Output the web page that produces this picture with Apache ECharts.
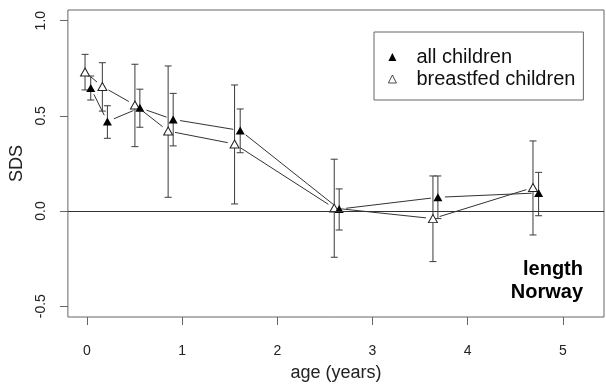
<!DOCTYPE html>
<html><head><meta charset="utf-8">
<script src="https://cdn.jsdelivr.net/npm/echarts@6/dist/echarts.min.js"></script>
<style>html,body{margin:0;padding:0;background:#fff}#c{width:606px;height:387px}</style>
</head><body><div id="c"></div>
<script>
// all children
const allAge  = [0.040, 0.215, 0.556, 0.906, 1.610, 2.650, 3.687, 4.745];
const allMean = [0.646, 0.470, 0.542, 0.481, 0.423, 0.010, 0.072, 0.095];
const allLow  = [0.583, 0.382, 0.440, 0.342, 0.306, -0.100, -0.040, -0.025];
const allHigh = [0.709, 0.553, 0.640, 0.618, 0.536, 0.116, 0.184, 0.203];
// breastfed children
const bfAge  = [-0.020, 0.162, 0.504, 0.853, 1.551, 2.598, 3.635, 4.686];
const bfMean = [0.730, 0.654, 0.557, 0.420, 0.352, 0.015, -0.040, 0.123];
const bfLow  = [0.636, 0.525, 0.338, 0.072, 0.037, -0.243, -0.266, -0.126];
const bfHigh = [0.823, 0.779, 0.771, 0.762, 0.662, 0.272, 0.184, 0.368];
// axes
const xTicks = [0, 1, 2, 3, 4, 5];
const yTicks = [-0.5, 0.0, 0.5, 1.0];
const seriesNames = ['all children', 'breastfed children'];

const FONT = '"Liberation Sans", Arial, sans-serif';
const chart = echarts.init(document.getElementById('c'), null, {renderer: 'canvas'});

function segData(xs, ys) {
  const out = [];
  for (let i = 0; i < xs.length - 1; i++) out.push([xs[i], ys[i], xs[i + 1], ys[i + 1]]);
  return out;
}
function barData(xs, lo, hi) { return xs.map((x, i) => [x, lo[i], hi[i]]); }
function ptData(xs, ys) { return xs.map((x, i) => [x, ys[i]]); }

function segItem(params, api) {
  const p1 = api.coord([api.value(0), api.value(1)]);
  const p2 = api.coord([api.value(2), api.value(3)]);
  const dx = p2[0] - p1[0], dy = p2[1] - p1[1];
  const L = Math.hypot(dx, dy);
  const g = 7;
  if (L <= 2 * g) return {type: 'group', children: []};
  const ux = dx / L, uy = dy / L;
  return {type: 'line', shape: {x1: p1[0] + ux * g, y1: p1[1] + uy * g, x2: p2[0] - ux * g, y2: p2[1] - uy * g},
          style: {stroke: '#333', lineWidth: 1}};
}
function barItem(params, api) {
  const x = api.value(0);
  const lo = api.coord([x, api.value(1)]);
  const hi = api.coord([x, api.value(2)]);
  const w = 3.5;
  const st = {stroke: '#3a3a3a', lineWidth: 1};
  return {type: 'group', children: [
    {type: 'line', shape: {x1: lo[0], y1: lo[1], x2: hi[0], y2: hi[1]}, style: st},
    {type: 'line', shape: {x1: lo[0] - w, y1: lo[1], x2: lo[0] + w, y2: lo[1]}, style: st},
    {type: 'line', shape: {x1: hi[0] - w, y1: hi[1], x2: hi[0] + w, y2: hi[1]}, style: st}
  ]};
}

const option = {
  animation: false,
  backgroundColor: '#fff',
  textStyle: {fontFamily: FONT},
  grid: {left: 66, top: 10, right: 2, bottom: 70, show: true, borderColor: '#666', borderWidth: 1, backgroundColor: 'transparent'},
  xAxis: {
    type: 'value', min: -0.2, max: 5.432,
    axisLine: {show: false, onZero: false},
    splitLine: {show: false},
    axisTick: {show: true, customValues: xTicks, length: 8, lineStyle: {color: '#666'}},
    axisLabel: {customValues: xTicks, fontSize: 14, margin: 27, color: '#222', fontFamily: FONT},
    name: 'age (years)', nameLocation: 'middle', nameGap: 47,
    nameTextStyle: {fontSize: 18, color: '#222', fontFamily: FONT}
  },
  yAxis: {
    type: 'value', min: -0.557, max: 1.056,
    axisLine: {show: false, onZero: false},
    splitLine: {show: false},
    axisTick: {show: true, customValues: yTicks, length: 8, lineStyle: {color: '#666'}},
    axisLabel: {customValues: yTicks, rotate: 90, fontSize: 14, margin: 20, color: '#222', fontFamily: FONT,
                formatter: v => Number(v).toFixed(1)},
    name: 'SDS', nameLocation: 'middle', nameGap: 41,
    nameTextStyle: {fontSize: 18, color: '#222', fontFamily: FONT}
  },
  legend: {
    data: seriesNames,
    orient: 'vertical', left: 374, top: 32,
    padding: [15, 8, 11, 14],
    itemWidth: 8, itemHeight: 8, itemGap: 2,
    borderColor: '#666', borderWidth: 1,
    selectedMode: false,
    itemStyle: {borderWidth: 0.8},
    textStyle: {fontSize: 20, fontFamily: FONT, color: '#111', lineHeight: 20, padding: [0, 0, 0, 15]}
  },
  graphic: [{
    type: 'text', right: 23, top: 258,
    style: {text: 'length\nNorway', font: 'bold 20px ' + FONT, textAlign: 'right', lineHeight: 23, fill: '#000'}
  }],
  series: [
    {type: 'custom', name: 'seg-bf', renderItem: segItem, data: segData(bfAge, bfMean), encode: {x: [0, 2], y: [1, 3]}, z: 1, silent: true,
     markLine: {silent: true, symbol: 'none', label: {show: false}, lineStyle: {color: '#333', width: 1, type: 'solid'}, data: [{yAxis: 0}]}},
    {type: 'custom', name: 'seg-all', renderItem: segItem, data: segData(allAge, allMean), encode: {x: [0, 2], y: [1, 3]}, z: 1, silent: true},
    {type: 'custom', name: 'bar-bf', renderItem: barItem, data: barData(bfAge, bfLow, bfHigh), encode: {x: 0, y: [1, 2]}, z: 2, silent: true},
    {type: 'custom', name: 'bar-all', renderItem: barItem, data: barData(allAge, allLow, allHigh), encode: {x: 0, y: [1, 2]}, z: 2, silent: true},
    {type: 'scatter', name: seriesNames[1], data: ptData(bfAge, bfMean), symbol: 'triangle', symbolSize: [9, 8],
     itemStyle: {color: '#fff', borderColor: '#222', borderWidth: 1, opacity: 1}, z: 3},
    {type: 'scatter', name: seriesNames[0], data: ptData(allAge, allMean), symbol: 'triangle', symbolSize: [9, 8],
     itemStyle: {color: '#000', opacity: 1}, z: 4}
  ]
};
chart.setOption(option);
</script>
</body></html>
